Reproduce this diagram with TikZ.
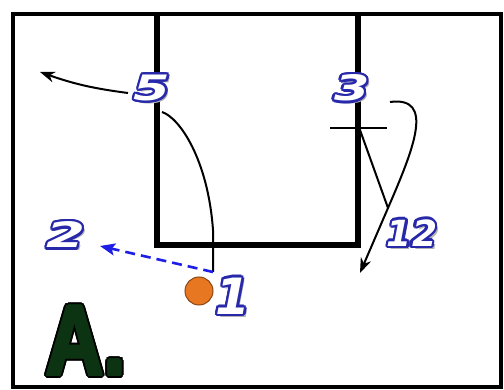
\documentclass[tikz,border=0pt]{standalone}
\usepackage{fontspec}
\usetikzlibrary{arrows.meta}
\newfontfamily\labfont{DejaVu Sans}[BoldItalicFont={DejaVu Sans Bold Oblique}]
\newfontfamily\bigfont{Liberation Sans}
\definecolor{lblue}{RGB}{40,40,170}
\definecolor{pblue}{RGB}{30,30,230}
\definecolor{dgreen}{RGB}{12,52,18}
\definecolor{ballor}{RGB}{232,119,34}
\tikzset{
  labtxt/.style={inner sep=0pt, outer sep=0pt},
  court/.style={line width=4pt, draw=black},
  lane/.style={line width=6pt, draw=black},
  move/.style={line width=2pt, draw=black, -{Stealth[length=15pt,width=11pt]}},
  pass/.style={line width=2.6pt, draw=pblue, dash pattern=on 10pt off 6pt, -{Stealth[length=15pt,width=12pt,inset=3pt]}},
  thin/.style={line width=2pt, draw=black},
}
\newcommand\olab[5]{% name, x y, size, xscale, text
  \coordinate (#1pos) at (#2);
  \node[labtxt, xscale=#4, text=black!30, font=\labfont\bfseries\itshape\fontsize{#3}{#3}\selectfont] at ([shift={(3,3)}]#1pos) {#5};
  \foreach \a in {0,22.5,...,359} {
    \node[labtxt, xscale=#4, text=lblue, font=\labfont\bfseries\itshape\fontsize{#3}{#3}\selectfont] at ([shift={(\a:2.4)}]#1pos) {#5};
  }
  \node[labtxt, xscale=#4, text=white, font=\labfont\bfseries\itshape\fontsize{#3}{#3}\selectfont] (#1) at (#1pos) {#5};
}
\begin{document}
\begin{tikzpicture}[x=1pt, y=-1pt]
\useasboundingbox (0,0) rectangle (504,390);
\fill[white] (0,0) rectangle (504,390);
% court
\draw[court] (13,14) rectangle (501,387);
\draw[lane] (157,14) -- (157,245) -- (358,245) -- (358,14);
% A.
\coordinate (Apos) at (86,341);
\foreach \a in {0,22.5,...,359} {
  \node[labtxt, text=black, font=\bigfont\bfseries\fontsize{100}{100}\selectfont, xscale=0.8] at ([shift={(\a:3.5)}]Apos) {A.};
}
\foreach \a in {0,45,...,359} {
  \node[labtxt, text=dgreen, font=\bigfont\bfseries\fontsize{100}{100}\selectfont, xscale=0.8] at ([shift={(\a:1.5)}]Apos) {A.};
}
\node[labtxt, text=dgreen, font=\bigfont\bfseries\fontsize{100}{100}\selectfont, xscale=0.8] (A) at (Apos) {A.};
% coordinates for paths
\coordinate (c5a) at (128,93);
\coordinate (c5t) at (40,72);
\coordinate (c5s) at (162,112);
\coordinate (c1top) at (213,272);
\coordinate (c2t) at (100,246);
\coordinate (c3s) at (390,102);
\coordinate (cx) at (388,208);
\coordinate (c12t) at (360,273);
\coordinate (sl) at (330,128);
\coordinate (sr) at (387,128);
\coordinate (sm) at (360,130);
% movements
\draw[move] (c5a) to[bend left=6] (c5t);
\draw[thin] (c5s) .. controls (180,118) and (208,160) .. (213,230) -- (c1top);
\draw[pass] (c1top) -- (c2t);
\draw[move] (c3s) .. controls (435,96) and (414,148) .. (cx) -- (c12t);
\draw[thin] (sl) -- (sr);
\draw[thin] (sm) -- (cx);
% ball
\node[circle, minimum size=28pt, inner sep=0pt, fill=ballor, draw=ballor!60!black, line width=1pt] (ball) at (199,291) {};
% labels
\olab{l5}{152,88}{35}{1.5}{5}
\olab{l3}{352,88}{35}{1.45}{3}
\olab{l2}{66,235}{35}{1.6}{2}
\olab{l12}{412,233}{36}{1.0}{12}
\olab{l1}{233,296}{50}{1.0}{1}
\end{tikzpicture}
\end{document}
